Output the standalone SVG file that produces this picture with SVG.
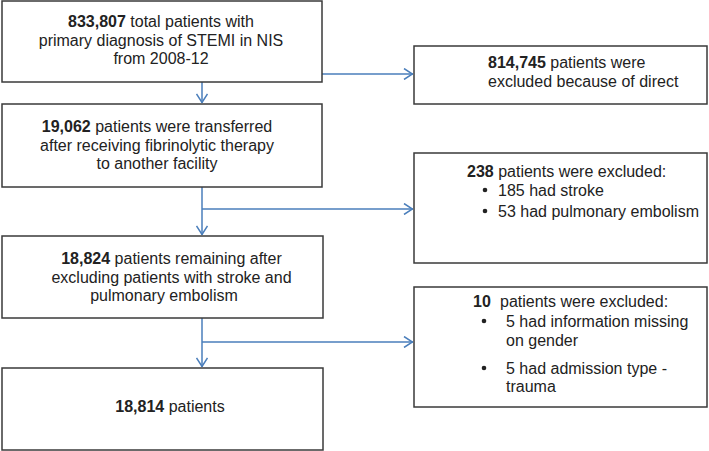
<svg xmlns="http://www.w3.org/2000/svg" width="709" height="451" viewBox="0 0 709 451">
<defs>
<style>
.box{fill:#fff;stroke:#3a3a3a;stroke-width:1.5}
text{font-family:"Liberation Sans",Arial,sans-serif;font-size:16px;fill:#222}
.b{font-weight:bold}
.c{text-anchor:middle}
.con{fill:none;stroke:#4a7ebb;stroke-width:1.5}
</style>
<marker id="ah" viewBox="0 0 10 12" refX="10" refY="6" markerWidth="10" markerHeight="12" markerUnits="userSpaceOnUse" orient="auto">
<path d="M1,0.5 L9.5,6 L1,11.5" fill="none" stroke="#4a7ebb" stroke-width="1.5"/>
</marker>
</defs>
<rect width="709" height="451" fill="#fff"/>
<g id="connectors">
<path class="con" d="M322,74 H413" marker-end="url(#ah)"/>
<path class="con" d="M202,82 V103" marker-end="url(#ah)"/>
<path class="con" d="M202,187 V235" marker-end="url(#ah)"/>
<path class="con" d="M202,209 H413" marker-end="url(#ah)"/>
<path class="con" d="M202,318 V367" marker-end="url(#ah)"/>
<path class="con" d="M202,342 H413" marker-end="url(#ah)"/>
</g>
<g id="n1">
<rect class="box" x="2" y="1" width="320" height="81"/>
<text class="c" x="161" y="27"><tspan class="b">833,807</tspan> total patients with</text>
<text class="c" x="161" y="46">primary diagnosis of STEMI in NIS</text>
<text class="c" x="161" y="64">from 2008-12</text>
</g>
<g id="n2">
<rect class="box" x="414" y="46" width="293" height="58"/>
<text x="488" y="68"><tspan class="b">814,745</tspan> patients were</text>
<text x="488" y="87">excluded because of direct</text>
</g>
<g id="n3">
<rect class="box" x="2" y="104" width="320" height="83"/>
<text class="c" x="157" y="132"><tspan class="b">19,062</tspan> patients were transferred</text>
<text class="c" x="157" y="151">after receiving fibrinolytic therapy</text>
<text class="c" x="157" y="169">to another facility</text>
</g>
<g id="n4">
<rect class="box" x="414" y="153" width="293" height="110"/>
<text x="467" y="177"><tspan class="b">238</tspan> patients were excluded:</text>
<circle cx="485" cy="190" r="2.3" fill="#222"/>
<text x="498" y="196">185 had stroke</text>
<circle cx="485" cy="211" r="2.3" fill="#222"/>
<text x="498" y="217">53 had pulmonary embolism</text>
</g>
<g id="n5">
<rect class="box" x="2" y="236" width="321" height="82"/>
<text class="c" x="171.5" y="264"><tspan class="b">18,824</tspan> patients remaining after</text>
<text class="c" x="171.5" y="283">excluding patients with stroke and</text>
<text class="c" x="164" y="301">pulmonary embolism</text>
</g>
<g id="n6">
<rect class="box" x="414" y="287" width="293" height="120"/>
<text x="473" y="307"><tspan class="b">10</tspan><tspan x="500">patients were excluded:</tspan></text>
<circle cx="484" cy="321" r="2.3" fill="#222"/>
<text x="506" y="327">5 had information missing</text>
<text x="506" y="346">on gender</text>
<circle cx="484" cy="368" r="2.3" fill="#222"/>
<text x="506" y="374">5 had admission type -</text>
<text x="506" y="392">trauma</text>
</g>
<g id="n7">
<rect class="box" x="2" y="368" width="321" height="82"/>
<text class="c" x="170" y="412"><tspan class="b">18,814</tspan> patients</text>
</g>
</svg>
